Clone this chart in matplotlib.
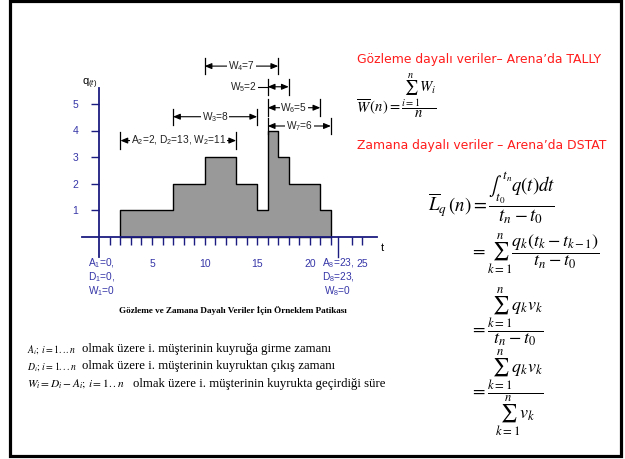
import matplotlib
matplotlib.use("Agg")
import matplotlib.pyplot as plt          # noqa: E402
from matplotlib.patches import Rectangle  # noqa: E402

W, H = 625, 459

# sample path of the queue length q(t): level holds from event_t[i] to event_t[i+1]
event_t = [2, 7, 10, 13, 15, 16, 17, 18, 21, 22]
queue_q = [1, 2, 3, 2, 1, 4, 3, 2, 1, 0]

# time ticks along the axis (23 is shown as the long A8 marker instead)
t_ticks = [1, 2, 3, 4, 5, 6, 7, 8, 9, 10, 11, 12, 13, 14, 15, 16, 17, 18, 19,
           20, 21, 22, 24, 25]
t_labels = ["5", "10", "15", "20", "25"]
q_ticks = [1, 2, 3, 4, 5]
a8_t = 22.7

# waiting-time brackets
w_labels = ["A$_2$=2, D$_2$=13, W$_2$=11", "W$_3$=8", "W$_4$=7", "W$_5$=2",
            "W$_6$=5", "W$_7$=6"]
w_start = [2, 7, 10, 16, 16, 16]
w_end = [13, 15, 17, 18, 21, 22]
w_level = [3.62, 4.52, 6.43, 5.65, 4.86, 4.17]
w_text_t = [7.5, 11, 13.5, 13.7, 18.5, 19]

plt.rcParams["font.family"] = ["Liberation Sans", "DejaVu Sans"]
plt.rcParams["mathtext.fontset"] = "custom"
plt.rcParams["mathtext.rm"] = "Liberation Sans"
plt.rcParams["mathtext.it"] = "Liberation Sans:italic"

NAVY = "#1c1c80"
BLUE = "#3535a8"
RED = "#ff1c1c"


def fx(x):
    return x / W


def fy(y):
    return 1 - y / H


fig = plt.figure(figsize=(W / 100, H / 100), dpi=100)
fig.patch.set_facecolor("white")
fig.patches.append(Rectangle((fx(10), fy(456)), fx(611), (456 - 1) / H,
                             transform=fig.transFigure, fill=False,
                             edgecolor="black", lw=2.3))

# axes placed so that t=0 / q=0 fall where the slide has them
T0_PX, T_PX = 99.4, 10.52
Q0_PX, Q_PX = 236.5, 26.5
box = (60, 30, 400, 280)
ax = fig.add_axes([fx(box[0]), fy(box[3]), (box[2] - box[0]) / W,
                   (box[3] - box[1]) / H])
ax.set_xlim((box[0] - T0_PX) / T_PX, (box[2] - T0_PX) / T_PX)
ax.set_ylim((Q0_PX - box[3]) / Q_PX, (Q0_PX - box[1]) / Q_PX)
ax.patch.set_visible(False)
for s in ("top", "right"):
    ax.spines[s].set_visible(False)
ax.spines["left"].set_position(("data", 0))
ax.spines["bottom"].set_position(("data", 0))
ax.spines["left"].set_bounds(-0.77, 5.6)
ax.spines["bottom"].set_bounds(-1.65, 26.4)
for s in ("left", "bottom"):
    ax.spines[s].set_color(NAVY)
    ax.spines[s].set_linewidth(1.3)

ax.fill_between(event_t, queue_q, step="post", facecolor="#999999",
                edgecolor="black", lw=1, zorder=1)

ax.set_xticks(t_ticks, [str(t) if str(t) in t_labels else "" for t in t_ticks])
ax.set_yticks(q_ticks, [str(q) for q in q_ticks])
ax.tick_params(axis="x", direction="out", length=6, width=1, color=NAVY,
               labelcolor=BLUE, labelsize=7.5, pad=10)
ax.tick_params(axis="y", direction="out", length=6, width=1, color=NAVY,
               labelcolor=BLUE, labelsize=7.5, pad=9)
ax.plot([a8_t, a8_t], [0, -0.77], color=NAVY, lw=1, clip_on=False)

bar = 0.31
for lab, a, b, lv, tt in zip(w_labels, w_start, w_end, w_level, w_text_t):
    ax.plot([a, a], [lv - bar, lv + bar], color="black", lw=0.9, clip_on=False)
    ax.plot([b, b], [lv - bar, lv + bar], color="black", lw=0.9, clip_on=False)
    if tt < a:
        ax.plot([tt, a], [lv, lv], color="black", lw=0.8, clip_on=False)
    ax.annotate("", xy=(b, lv), xytext=(a, lv), annotation_clip=False,
                arrowprops=dict(arrowstyle="<|-|>,head_length=0.6,head_width=0.25",
                                mutation_scale=7, lw=0.8, color="black",
                                shrinkA=0, shrinkB=0))
    ax.text(tt, lv, lab, ha="center", va="center", fontsize=7.3,
            color="#222222", zorder=5,
            bbox=dict(facecolor="white", edgecolor="none", pad=0.6))

fig.text(fx(82), fy(84), "q$_{(t)}$", fontsize=8, va="center")
fig.text(fx(381), fy(248), "t", fontsize=8, va="center")

for i, s in enumerate(["A$_1$=0,", "D$_1$=0,", "W$_1$=0"]):
    fig.text(fx(88), fy(263 + 14 * i), s, fontsize=7.3, color=BLUE, va="center")
for i, s in enumerate(["A$_8$=23,", "D$_8$=23,", "W$_8$=0"]):
    fig.text(fx(338), fy(263 + 14 * i), s, fontsize=7.3, color=BLUE,
             va="center", ha="center")

fig.text(fx(233), fy(310), "Gözleme ve Zamana Dayalı Veriler İçin Örneklem Patikası",
         fontsize=6.6, fontweight="bold", family="Liberation Serif",
         ha="center", va="center")

# definitions at the bottom left
defs = [(r"$A_i;\,i=1...n$", "olmak üzere i. müşterinin kuyruğa girme zamanı", 82, 7.0),
        (r"$D_i;\,i=1...n$", "olmak üzere i. müşterinin kuyruktan çıkış zamanı", 82, 7.0),
        (r"$W_i=D_i-A_i;\,i=1..n$", "olmak üzere i. müşterinin kuyrukta geçirdiği süre", 133, 8.2)]
for i, (m, txt, x0, ms) in enumerate(defs):
    y = 349 + 17.5 * i
    fig.text(fx(27), fy(y), m, fontsize=ms, math_fontfamily="stix", va="center")
    fig.text(fx(x0), fy(y), txt, fontsize=9.2, family="Liberation Serif",
             va="center")

# right side: estimators
fig.text(fx(357), fy(59), "Gözleme dayalı veriler– Arena’da TALLY",
         fontsize=8.9, color=RED, family="DejaVu Sans", va="center")
fig.text(fx(357), fy(146), "Zamana dayalı veriler – Arena’da DSTAT",
         fontsize=8.9, color=RED, family="DejaVu Sans", va="center")

fig.text(fx(356), fy(96), r"$\overline{W}\,(n)=\dfrac{\sum_{i=1}^{n}W_i}{n}$",
         fontsize=10.5, math_fontfamily="stix", va="center")

fig.text(fx(428), fy(198),
         r"$\overline{L}_q\,(n)=\dfrac{\int_{t_0}^{t_n}q(t)dt}{t_n-t_0}$",
         fontsize=13.5, math_fontfamily="stix", va="center")
fig.text(fx(470), fy(254),
         r"$=\sum_{k=1}^{n}\dfrac{q_k(t_k-t_{k-1})}{t_n-t_0}$",
         fontsize=13, math_fontfamily="stix", va="center")
fig.text(fx(470), fy(317),
         r"$=\dfrac{\sum_{k=1}^{n}q_k v_k}{t_n-t_0}$",
         fontsize=13, math_fontfamily="stix", va="center")
fig.text(fx(470), fy(393),
         r"$=\dfrac{\sum_{k=1}^{n}q_k v_k}{\sum_{k=1}^{n}v_k}$",
         fontsize=13, math_fontfamily="stix", va="center")

fig.savefig("out.png", dpi=100)
